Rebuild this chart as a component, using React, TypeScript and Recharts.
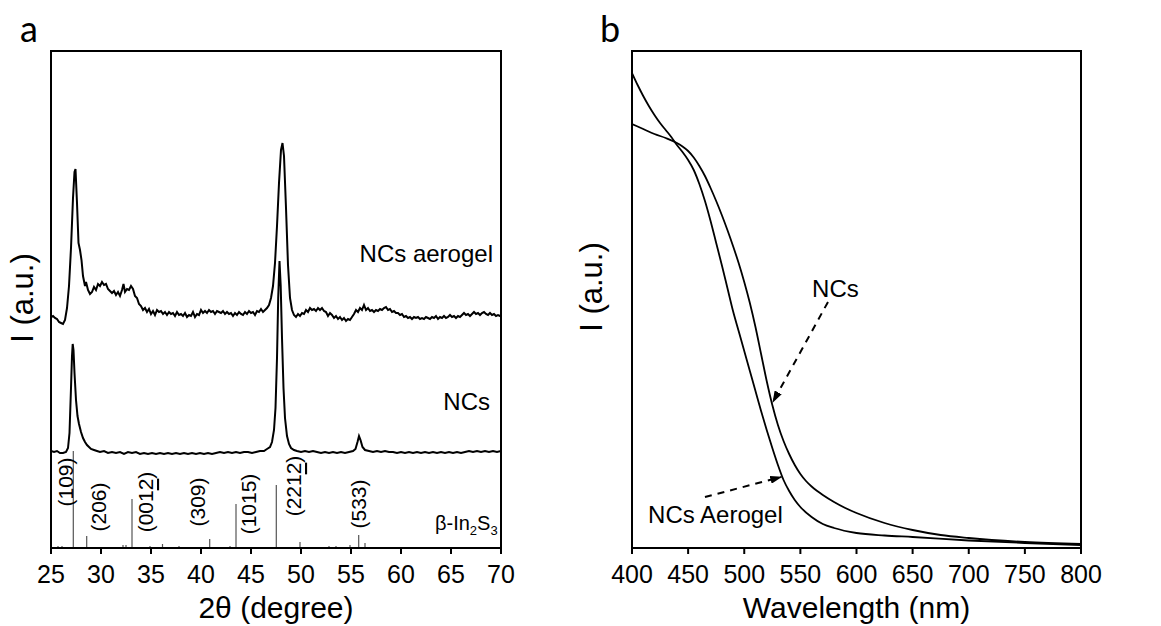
import React from 'react';
import { ComposedChart, Line, XAxis, YAxis, ReferenceLine, ReferenceArea, Scatter, Label } from 'recharts';

// ---------- Panel a: XRD ----------
const xrdTicks = [25, 30, 35, 40, 45, 50, 55, 60, 65, 70];

// [2theta, intensity (a.u.)]
const aerogelXRD: [number, number][] = [
  [25.0, 231], [25.2, 232], [25.4, 230], [25.6, 229], [25.8, 226], [26.0, 225], [26.2, 224], [26.4, 228],
  [26.6, 240], [26.8, 262], [27.0, 300], [27.2, 350], [27.35, 376], [27.45, 379], [27.6, 345], [27.75, 305],
  [27.9, 298], [28.05, 288], [28.2, 272], [28.4, 262], [28.5, 266], [28.7, 258], [28.9, 254], [29.1, 256],
  [29.3, 261], [29.5, 258], [29.7, 264], [29.9, 262], [30.1, 266], [30.3, 263], [30.5, 264], [30.7, 259],
  [30.9, 257], [31.1, 255], [31.3, 257], [31.5, 253], [31.7, 256], [31.9, 252], [32.1, 258], [32.25, 264],
  [32.4, 256], [32.6, 259], [32.8, 258], [33.0, 262], [33.2, 259], [33.4, 252], [33.6, 250], [33.8, 244],
  [34.0, 242], [34.2, 238], [34.4, 240], [34.6, 236], [34.8, 239], [35.0, 234], [35.2, 237], [35.4, 233],
  [35.6, 238], [35.8, 236], [36.0, 237], [36.2, 234], [36.4, 236], [36.6, 233], [36.8, 236], [37.0, 234],
  [37.2, 235], [37.4, 232], [37.6, 236], [37.8, 233], [38.0, 234], [38.2, 232], [38.4, 235], [38.6, 231],
  [38.8, 233], [39.0, 232], [39.2, 236], [39.4, 231], [39.6, 234], [39.8, 233], [40.0, 238], [40.2, 235],
  [40.4, 237], [40.6, 235], [40.8, 238], [41.0, 236], [41.2, 237], [41.4, 234], [41.6, 237], [41.8, 236],
  [42.0, 235], [42.2, 237], [42.4, 234], [42.6, 236], [42.8, 234], [43.0, 235], [43.2, 232], [43.4, 235],
  [43.6, 233], [43.8, 236], [44.0, 234], [44.2, 233], [44.4, 236], [44.6, 234], [44.8, 237], [45.0, 235],
  [45.2, 236], [45.4, 233], [45.6, 237], [45.8, 236], [46.0, 239], [46.2, 236], [46.4, 238], [46.6, 240],
  [46.8, 243], [47.0, 250], [47.2, 262], [47.4, 285], [47.6, 322], [47.8, 365], [48.0, 398], [48.15, 405],
  [48.3, 392], [48.5, 340], [48.7, 283], [48.9, 250], [49.1, 238], [49.3, 233], [49.5, 231], [49.7, 234],
  [49.9, 232], [50.1, 235], [50.3, 234], [50.5, 238], [50.7, 236], [50.9, 240], [51.1, 238], [51.3, 239],
  [51.5, 237], [51.7, 240], [51.9, 238], [52.1, 240], [52.3, 237], [52.5, 236], [52.7, 232], [52.9, 235],
  [53.1, 233], [53.3, 230], [53.5, 232], [53.7, 229], [53.9, 231], [54.1, 228], [54.3, 230], [54.5, 227],
  [54.7, 229], [54.9, 228], [55.1, 231], [55.3, 234], [55.5, 238], [55.7, 236], [55.9, 240], [56.1, 238],
  [56.3, 243], [56.5, 238], [56.7, 240], [56.9, 237], [57.1, 238], [57.3, 236], [57.5, 238], [57.7, 237],
  [57.9, 239], [58.1, 238], [58.3, 240], [58.5, 241], [58.7, 238], [58.9, 239], [59.1, 236], [59.3, 237],
  [59.5, 235], [59.7, 235], [59.9, 233], [60.1, 234], [60.3, 231], [60.5, 232], [60.7, 230], [60.9, 231],
  [61.1, 229], [61.3, 231], [61.5, 230], [61.7, 231], [61.9, 229], [62.1, 230], [62.3, 229], [62.5, 231],
  [62.7, 230], [62.9, 229], [63.1, 231], [63.3, 230], [63.5, 232], [63.7, 229], [63.9, 231], [64.1, 230],
  [64.3, 232], [64.5, 230], [64.7, 231], [64.9, 233], [65.1, 231], [65.3, 232], [65.5, 230], [65.7, 232],
  [65.9, 231], [66.1, 233], [66.3, 235], [66.5, 233], [66.7, 234], [66.9, 232], [67.1, 234], [67.3, 236],
  [67.5, 234], [67.7, 235], [67.9, 233], [68.1, 235], [68.3, 236], [68.5, 234], [68.7, 233], [68.9, 235],
  [69.1, 233], [69.3, 234], [69.5, 232], [69.7, 233], [69.9, 232], [70.0, 233],
];

const ncsXRD: [number, number][] = [
  [25.0, 97], [25.3, 96], [25.6, 97], [25.9, 95], [26.2, 95], [26.5, 96], [26.7, 100], [26.85, 115],
  [27.0, 160], [27.1, 192], [27.17, 204], [27.25, 198], [27.35, 175], [27.5, 148], [27.65, 132], [27.8, 124],
  [28.0, 116], [28.2, 110], [28.4, 106], [28.6, 103], [28.8, 101], [29.0, 99], [29.3, 98], [29.6, 97],
  [29.9, 96], [30.3, 97], [30.7, 95], [31.1, 96], [31.5, 95], [31.9, 96], [32.3, 94], [32.7, 96],
  [33.1, 95], [33.5, 96], [33.9, 94], [34.3, 95], [34.7, 94], [35.1, 95], [35.5, 94], [35.9, 95],
  [36.3, 94], [36.7, 95], [37.1, 94], [37.5, 95], [37.9, 94], [38.3, 95], [38.7, 94], [39.1, 95],
  [39.5, 94], [39.9, 95], [40.3, 94], [40.7, 95], [41.1, 94], [41.5, 95], [41.9, 96], [42.3, 95],
  [42.7, 96], [43.1, 95], [43.5, 96], [43.9, 95], [44.3, 96], [44.7, 96], [45.1, 95], [45.5, 96],
  [45.9, 97], [46.3, 97], [46.6, 99], [46.9, 101], [47.1, 106], [47.3, 118], [47.45, 140], [47.6, 190],
  [47.72, 250], [47.85, 287], [47.97, 262], [48.1, 210], [48.25, 160], [48.4, 130], [48.6, 112], [48.8, 104],
  [49.0, 100], [49.3, 98], [49.6, 97], [50.0, 96], [50.4, 97], [50.8, 96], [51.2, 97], [51.6, 96],
  [52.0, 95], [52.4, 96], [52.8, 95], [53.2, 96], [53.6, 95], [54.0, 96], [54.4, 95], [54.8, 96],
  [55.2, 97], [55.45, 99], [55.65, 106], [55.8, 112], [55.95, 108], [56.15, 101], [56.4, 98], [56.8, 97],
  [57.2, 96], [57.6, 97], [58.0, 96], [58.4, 97], [58.8, 96], [59.2, 96], [59.6, 95], [60.0, 96],
  [60.4, 95], [60.8, 96], [61.2, 95], [61.6, 96], [62.0, 95], [62.4, 96], [62.8, 95], [63.2, 96],
  [63.6, 95], [64.0, 96], [64.4, 95], [64.8, 96], [65.2, 95], [65.6, 96], [66.0, 95], [66.4, 96],
  [66.8, 97], [67.2, 96], [67.6, 97], [68.0, 96], [68.4, 97], [68.8, 96], [69.2, 97], [69.6, 96], [70.0, 97],
];

// beta-In2S3 reference pattern: [2theta, relative height]
const refSticks: [number, number][] = [
  [25.7, 2], [26.1, 2], [27.23, 97], [28.57, 12], [32.2, 3], [32.5, 3], [33.1, 49], [34.9, 2],
  [36.15, 4], [37.8, 2], [40.87, 9], [42.9, 2], [43.5, 44], [47.53, 63], [49.9, 6], [51.2, 1],
  [52.8, 2], [53.5, 2], [54.9, 3], [55.77, 13], [56.4, 5],
];

// Miller index labels: [2theta, height, text before underline, underlined, after]
const hklLabels: [number, number, string, string, string][] = [
  [26.4, 66, '(109)', '', ''],
  [29.7, 41, '(206)', '', ''],
  [34.4, 46, '(001', '2', ')'],
  [39.6, 46, '(309)', '', ''],
  [44.7, 44, '(1015)', '', ''],
  [49.2, 62, '(221', '2', ')'],
  [55.7, 44, '(533)', '', ''],
];

// ---------- Panel b: absorption ----------
const wlTicks = [400, 450, 500, 550, 600, 650, 700, 750, 800];

const aerogelAbs: [number, number][] = [
  [400, 475], [405, 463], [410, 452], [415, 442], [420, 433], [425, 425], [430, 418], [435, 411],
  [440, 403], [445, 396], [450, 388], [455, 378], [460, 364], [465, 347], [470, 327], [475, 305],
  [480, 283], [485, 260], [490, 237], [495, 217], [500, 197], [505, 177], [510, 157], [515, 137],
  [520, 118], [525, 100], [530, 83], [535, 68], [540, 57], [545, 48], [550, 41], [560, 31],
  [570, 24], [580, 20], [600, 15], [625, 12.5], [650, 11], [700, 7.5], [750, 5], [800, 3],
];

const ncsAbs: [number, number][] = [
  [400, 424], [410, 419], [420, 414], [430, 410], [440, 405], [445, 401.5], [450, 397], [455, 390.5],
  [460, 382], [465, 372], [470, 360], [475, 347], [480, 333], [485, 318], [490, 302], [495, 285],
  [500, 266], [505, 245], [510, 221], [515, 194], [520, 167], [525, 143], [530, 123], [535, 107],
  [540, 94], [545, 83], [550, 74], [555, 67], [560, 61.5], [565, 57], [570, 53], [580, 46],
  [590, 40], [600, 35], [625, 25], [650, 18], [675, 13], [700, 10], [750, 6], [800, 4],
];

// dashed arrows: [fromX, fromY, toX, toY]
const absArrows: [number, number, number, number][] = [
  [574.6, 246, 525.5, 146],
  [465, 51, 533, 71],
];

// text annotations: [x, y, text, anchor]
const xrdNotes: [number, number, string, string][] = [
  [69.2, 286, 'NCs aerogel', 'end'],
  [68.9, 138, 'NCs', 'end'],
];
const absNotes: [number, number, string, string][] = [
  [560.4, 251, 'NCs', 'start'],
  [414.3, 25, 'NCs Aerogel', 'start'],
];

const FONT = "'Liberation Sans', Arial, sans-serif";
const toPts = (arr: [number, number][]) => arr.map(([x, y]) => ({ x, y }));

const noteShape = (props: any) => {
  const { cx, cy, payload } = props;
  return (
    <text x={cx} y={cy} textAnchor={payload.anchor} fontSize={24} fontFamily={FONT} fill="#000">
      {payload.text}
    </text>
  );
};

const hklShape = (props: any) => {
  const { cx, cy, payload } = props;
  return (
    <text
      x={cx}
      y={cy}
      transform={`rotate(-90, ${cx}, ${cy})`}
      textAnchor="middle"
      dominantBaseline="central"
      fontSize={21}
      fontFamily={FONT}
      fill="#000"
    >
      {payload.pre}
      {payload.u ? <tspan style={{ textDecoration: 'underline' }}>{payload.u}</tspan> : null}
      {payload.post}
    </text>
  );
};

const betaShape = (props: any) => {
  const { cx, cy } = props;
  return (
    <text x={cx} y={cy} fontSize={20} fontFamily={FONT} fill="#000">
      β-In<tspan fontSize={13} dy={5}>2</tspan>
      <tspan dy={-5}>S</tspan>
      <tspan fontSize={13} dy={5}>3</tspan>
    </text>
  );
};

const tickStyle = { fill: '#000', fontSize: 25, fontFamily: FONT };

function XRDPanel() {
  return (
    <ComposedChart width={580} height={626} margin={{ top: 51, right: 79, bottom: 0, left: 51 }}>
      <XAxis
        dataKey="x"
        type="number"
        domain={[25, 70]}
        ticks={xrdTicks}
        interval={0}
        allowDataOverflow
        height={78}
        tickSize={6}
        tickMargin={11}
        axisLine={{ stroke: '#000', strokeWidth: 2 }}
        tickLine={{ stroke: '#000', strokeWidth: 2 }}
        tick={tickStyle}
      >
        <Label value="2θ (degree)" position="insideBottom" offset={8} fill="#000" fontSize={30} fontFamily={FONT} />
      </XAxis>
      <YAxis type="number" domain={[0, 497]} hide width={0} allowDataOverflow />
      <ReferenceArea x1={25} x2={70} y1={0} y2={497} fill="none" fillOpacity={0} stroke="#000" strokeWidth={2} />
      {refSticks.map(([x, h], i) => (
        <ReferenceLine key={i} segment={[{ x, y: 0 }, { x, y: h }]} stroke="#555" strokeWidth={1.2} />
      ))}
      <Line data={toPts(aerogelXRD)} dataKey="y" type="linear" stroke="#000" strokeWidth={2} dot={false} isAnimationActive={false} />
      <Line data={toPts(ncsXRD)} dataKey="y" type="linear" stroke="#000" strokeWidth={2} dot={false} isAnimationActive={false} />
      <Scatter
        data={hklLabels.map(([x, y, pre, u, post]) => ({ x, y, pre, u, post }))}
        dataKey="y"
        shape={hklShape}
        isAnimationActive={false}
      />
      <Scatter data={[{ x: 63.4, y: 18 }]} dataKey="y" shape={betaShape} isAnimationActive={false} />
      <Scatter
        data={xrdNotes.map(([x, y, text, anchor]) => ({ x, y, text, anchor }))}
        dataKey="y"
        shape={noteShape}
        isAnimationActive={false}
      />
    </ComposedChart>
  );
}

function AbsPanel() {
  return (
    <ComposedChart width={581} height={626} margin={{ top: 51, right: 80, bottom: 0, left: 52 }}>
      <XAxis
        dataKey="x"
        type="number"
        domain={[400, 800]}
        ticks={wlTicks}
        interval={0}
        allowDataOverflow
        height={78}
        tickSize={6}
        tickMargin={11}
        axisLine={{ stroke: '#000', strokeWidth: 2 }}
        tickLine={{ stroke: '#000', strokeWidth: 2 }}
        tick={tickStyle}
      >
        <Label value="Wavelength (nm)" position="insideBottom" offset={8} fill="#000" fontSize={30} fontFamily={FONT} />
      </XAxis>
      <YAxis type="number" domain={[0, 497]} hide width={0} allowDataOverflow />
      <ReferenceArea x1={400} x2={800} y1={0} y2={497} fill="none" fillOpacity={0} stroke="#000" strokeWidth={2} />
      <Line data={toPts(aerogelAbs)} dataKey="y" type="monotone" stroke="#000" strokeWidth={1.8} dot={false} isAnimationActive={false} />
      <Line data={toPts(ncsAbs)} dataKey="y" type="monotone" stroke="#000" strokeWidth={1.8} dot={false} isAnimationActive={false} />
      {absArrows.map(([x1, y1, x2, y2], i) => (
        <ReferenceLine
          key={i}
          segment={[{ x: x1, y: y1 }, { x: x2, y: y2 }]}
          stroke="#000"
          strokeWidth={2}
          strokeDasharray="7 6"
          markerEnd="url(#arrowHead)"
        />
      ))}
      <Scatter
        data={absNotes.map(([x, y, text, anchor]) => ({ x, y, text, anchor }))}
        dataKey="y"
        shape={noteShape}
        isAnimationActive={false}
      />
    </ComposedChart>
  );
}

export default function App() {
  return (
    <div style={{ position: 'absolute', left: 0, top: 0, width: 1161, height: 626, background: '#fff', overflow: 'hidden' }}>
      <svg width={0} height={0} style={{ position: 'absolute' }}>
        <defs>
          <marker id="arrowHead" markerWidth={12} markerHeight={8} refX={11} refY={4} orient="auto" markerUnits="userSpaceOnUse">
            <path d="M0,0 L12,4 L0,8 z" fill="#000" />
          </marker>
        </defs>
      </svg>
      <div style={{ position: 'absolute', left: 0, top: 0 }}>
        <XRDPanel />
      </div>
      <div style={{ position: 'absolute', left: 580, top: 0 }}>
        <AbsPanel />
      </div>
      <svg width={1161} height={626} style={{ position: 'absolute', left: 0, top: 0, pointerEvents: 'none' }}>
        <text x={20} y={42} fontSize={36} fontFamily="Lato, 'Liberation Sans', sans-serif" fill="#000">a</text>
        <text x={600} y={42} fontSize={36} fontFamily="Lato, 'Liberation Sans', sans-serif" fill="#000">b</text>
        <text x={33} y={298} transform="rotate(-90, 33, 298)" textAnchor="middle" fontSize={31} fontFamily={FONT} fill="#000">I (a.u.)</text>
        <text x={602} y={287} transform="rotate(-90, 602, 287)" textAnchor="middle" fontSize={31} fontFamily={FONT} fill="#000">I (a.u.)</text>
      </svg>
    </div>
  );
}
